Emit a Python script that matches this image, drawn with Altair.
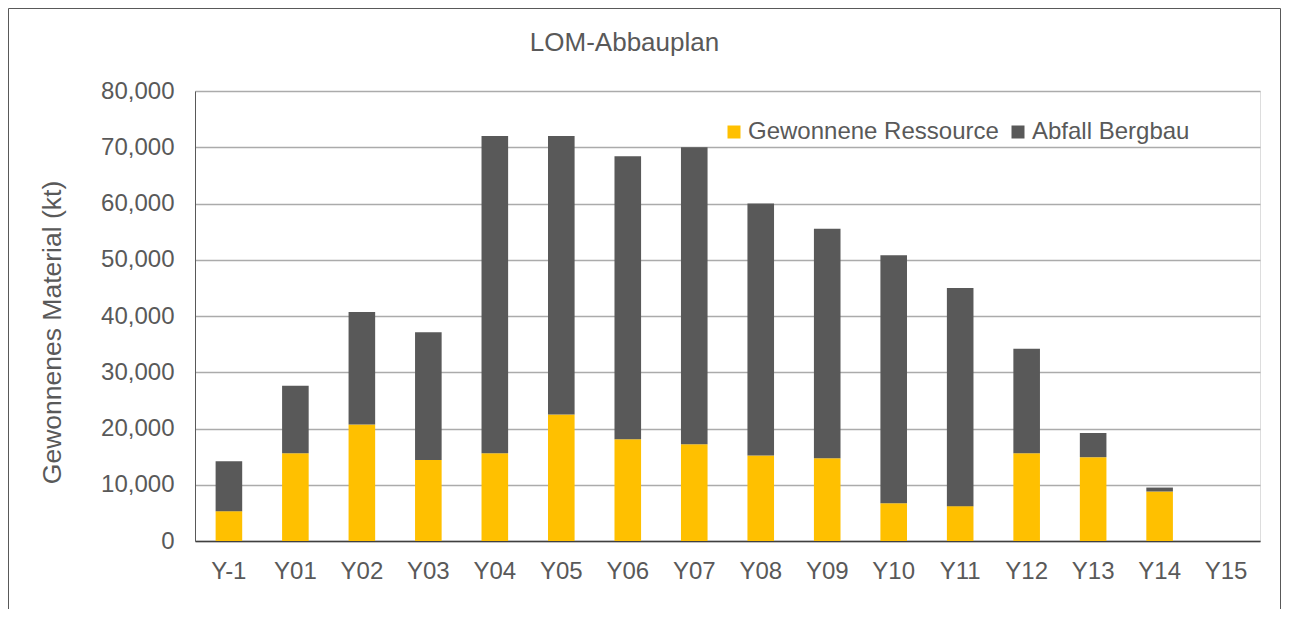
import altair as alt
import pandas as pd

years = ["Y-1", "Y01", "Y02", "Y03", "Y04", "Y05", "Y06", "Y07",
         "Y08", "Y09", "Y10", "Y11", "Y12", "Y13", "Y14", "Y15"]
resource = [5300, 15600, 20700, 14400, 15600, 22500, 18100, 17200,
            15200, 14700, 6700, 6200, 15600, 14900, 8800, 0]
waste = [8900, 12000, 20000, 22700, 56400, 49500, 50300, 52800,
         44800, 40800, 44100, 38800, 18600, 4300, 700, 0]
series = ["Gewonnene Ressource", "Abfall Bergbau"]
colors = ["#FFC000", "#595959"]
y_ticks = [0, 10000, 20000, 30000, 40000, 50000, 60000, 70000, 80000]

rows = []
for i, yr in enumerate(years):
    rows.append({"Jahr": yr, "Serie": series[0], "Wert": resource[i], "ord": 0})
    rows.append({"Jahr": yr, "Serie": series[1], "Wert": waste[i], "ord": 1})
df = pd.DataFrame(rows)

FONT = "Liberation Sans"
TXT = "#595959"

bars = alt.Chart(df).mark_bar().encode(
    x=alt.X("Jahr:N", sort=years,
            scale=alt.Scale(paddingInner=0.6, paddingOuter=0.31),
            axis=alt.Axis(title=None, labelAngle=0, labelFontSize=24,
                          labelColor=TXT, labelFont=FONT, labelPadding=18,
                          ticks=False, domainColor="#404040",
                          domainWidth=1.5, grid=False)),
    y=alt.Y("Wert:Q", stack="zero",
            scale=alt.Scale(domain=[0, 80000], nice=False),
            axis=alt.Axis(title="Gewonnenes Material (kt)", values=y_ticks,
                          format=",d", labelFontSize=24, labelColor=TXT,
                          labelFont=FONT, labelPadding=21, ticks=False,
                          domainColor="#595959", domainWidth=1,
                          gridColor="#ababab", gridWidth=1.3,
                          titleFontSize=26.5, titleFont=FONT, titleColor=TXT,
                          titleFontWeight="normal", titleX=-129, titleY=241)),
    color=alt.Color("Serie:N",
                    scale=alt.Scale(domain=series, range=colors),
                    legend=alt.Legend(title=None, orient="none",
                                      legendX=527, legendY=29,
                                      direction="horizontal",
                                      symbolType="square", symbolSize=169,
                                      symbolStrokeWidth=0,
                                      labelFontSize=24, labelColor=TXT,
                                      labelFont=FONT, labelOffset=2,
                                      labelLimit=400, columnPadding=7)),
    order=alt.Order("ord:Q", sort="ascending"),
)

frame = alt.Chart(pd.DataFrame({"k": [0]})).mark_rect(
    fill=None, stroke="#595959", strokeWidth=1
).encode(
    x=alt.value(-186.5), x2=alt.value(1085.5),
    y=alt.value(-82.5), y2=alt.value(700),
)

chart = alt.layer(bars, frame).properties(
    width=1065, height=450,
    title=alt.TitleParams("LOM-Abbauplan", fontSize=26, font=FONT,
                          color=TXT, fontWeight="normal", anchor="middle",
                          baseline="alphabetic", dx=-103, dy=26, offset=-43),
    autosize=alt.AutoSizeParams(type="none"),
    padding={"left": 187, "top": 83, "right": 21, "bottom": 68},
).configure_view(stroke=None).configure(background="white")

chart.save("out.html", embed_options={"renderer": "svg", "actions": False})
